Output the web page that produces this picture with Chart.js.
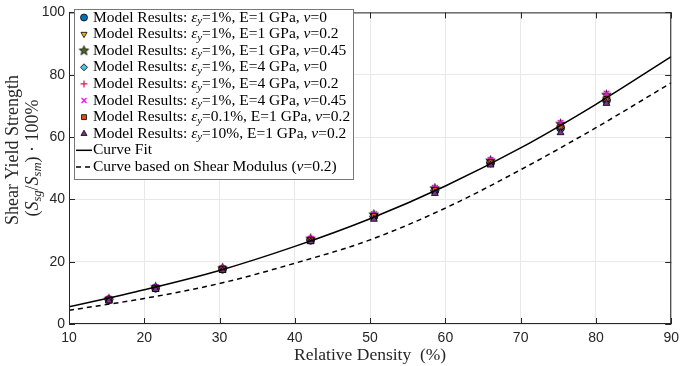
<!DOCTYPE html>
<html>
<head>
<meta charset="utf-8">
<script src="https://cdn.jsdelivr.net/npm/chart.js@4.4.1/dist/chart.umd.min.js"></script>
<style>
  html, body { margin: 0; padding: 0; background: #fff; }
</style>
</head>
<body>
<canvas id="chart" width="685" height="366"></canvas>
<script>
// relative density (%) of the simulated samples
const relDensity = [15.3, 21.5, 30.4, 42.1, 50.5, 58.6, 66.0, 75.3, 81.4];

// shear yield strength (% of solid) per model run
const e1Nu0   = [7.8, 11.5, 17.6, 26.9, 34.5, 42.8, 51.7, 62.9, 71.8];
const e1Nu02  = [7.9, 11.6, 17.7, 27.0, 34.6, 43.0, 51.9, 63.2, 72.2];
const e1Nu045 = [8.0, 11.8, 17.9, 27.3, 35.1, 43.5, 52.4, 64.2, 73.5];
const e4Nu0   = [7.8, 11.6, 17.7, 27.0, 34.6, 42.9, 51.8, 63.1, 72.0];
const e4Nu02  = [7.9, 11.7, 17.8, 27.1, 34.8, 43.2, 52.1, 63.6, 72.8];
const e4Nu045 = [8.1, 11.9, 18.0, 27.4, 35.3, 43.7, 52.7, 64.6, 74.0];
const eps01   = [7.9, 11.6, 17.7, 27.0, 34.7, 43.0, 51.9, 63.3, 72.2];
const eps10   = [7.4, 11.1, 17.2, 26.4, 33.6, 41.9, 51.0, 61.4, 70.8];

// curves
const curveX = [10, 20, 30, 40, 50, 60, 70, 80, 90];
const curveFit = [5.5, 11.0, 17.2, 24.9, 33.8, 44.3, 56.5, 70.5, 85.8];
const shearModCurve = [4.4, 8.2, 13.0, 19.5, 27.0, 37.2, 49.5, 63.0, 77.4];

const xTicks = [10, 20, 30, 40, 50, 60, 70, 80, 90];
const yTicks = [0, 20, 40, 60, 80, 100];

const SERIF = '"Liberation Serif", "DejaVu Serif", serif';
const SANS = '"Liberation Sans", Arial, sans-serif';

function makeStar(fill, r) {
    const c = document.createElement('canvas');
    const s = Math.ceil(r * 2 + 3);
    c.width = s; c.height = s;
    const g = c.getContext('2d');
    g.beginPath();
    for (let i = 0; i < 10; i++) {
        const rad = i % 2 === 0 ? r : r * 0.42;
        const ang = -Math.PI / 2 + i * Math.PI / 5;
        g.lineTo(s / 2 + rad * Math.cos(ang), s / 2 + rad * Math.sin(ang));
    }
    g.closePath();
    g.fillStyle = fill;
    g.fill();
    g.strokeStyle = '#000';
    g.lineWidth = 0.8;
    g.stroke();
    return c;
}

function toPoints(xs, ys) {
    return xs.map((x, i) => ({ x: x, y: ys[i] }));
}

function modelLabel(eps, E, nu) {
    return [
        { t: 'Model Results: ' },
        { t: 'ε', it: true },
        { t: 'y', it: true, sub: true },
        { t: '=' + eps + ', E=' + E + ' GPa, ' },
        { t: 'ν', it: true },
        { t: '=' + nu }
    ];
}

function markerSet(data, label, style, fill, order, extra) {
    return Object.assign({
        label: label,
        data: toPoints(relDensity, data),
        pointStyle: style,
        backgroundColor: fill,
        borderColor: '#000',
        borderWidth: 0.8,
        pointRadius: 4,
        showLine: false,
        order: order
    }, extra || {});
}

const starImg = makeStar('#4a6b1f', 5);

const datasets = [
    markerSet(e1Nu0, modelLabel('1%', 1, 0), 'circle', '#0072BD', 9),
    markerSet(e1Nu02, modelLabel('1%', 1, 0.2), 'triangle', '#EDB120', 8, { rotation: 180 }),
    markerSet(e1Nu045, modelLabel('1%', 1, 0.45), starImg, '#4a6b1f', 7),
    markerSet(e4Nu0, modelLabel('1%', 4, 0), 'rectRot', '#4DBEEE', 6),
    markerSet(e4Nu02, modelLabel('1%', 4, 0.2), 'cross', '#D0204F', 5, { borderColor: '#D0204F', borderWidth: 1.2 }),
    markerSet(e4Nu045, modelLabel('1%', 4, 0.45), 'crossRot', '#FF00FF', 4, { borderColor: '#FF00FF', borderWidth: 1.2 }),
    markerSet(eps01, modelLabel('0.1%', 1, 0.2), 'rect', '#D95319', 3, { pointRadius: 3.5 }),
    markerSet(eps10, modelLabel('10%', 1, 0.2), 'triangle', '#7E2F8E', 2),
    {
        label: [{ t: 'Curve Fit' }],
        data: toPoints(curveX, curveFit),
        showLine: true,
        borderColor: '#000',
        borderWidth: 1.5,
        pointRadius: 0,
        cubicInterpolationMode: 'monotone',
        order: 1
    },
    {
        label: [{ t: 'Curve based on Shear Modulus (' }, { t: 'ν', it: true }, { t: '=0.2)' }],
        data: toPoints(curveX, shearModCurve),
        showLine: true,
        borderColor: '#000',
        borderWidth: 1.5,
        borderDash: [5, 4],
        pointRadius: 0,
        cubicInterpolationMode: 'monotone',
        order: 0
    }
];

function drawRich(ctx, x, y, parts, size) {
    parts.forEach(p => {
        const s = p.sub ? size * 0.7 : size;
        ctx.font = (p.it ? 'italic ' : '') + s + 'px ' + SERIF;
        ctx.fillText(p.t, x, y + (p.sub ? size * 0.25 : 0));
        x += ctx.measureText(p.t).width;
    });
    return x;
}

function richWidth(ctx, parts, size) {
    let w = 0;
    parts.forEach(p => {
        const s = p.sub ? size * 0.7 : size;
        ctx.font = (p.it ? 'italic ' : '') + s + 'px ' + SERIF;
        w += ctx.measureText(p.t).width;
    });
    return w;
}

const overlay = {
    id: 'overlay',
    afterDraw(chart) {
        const ctx = chart.ctx;
        const a = chart.chartArea;
        const xs = chart.scales.x, ys = chart.scales.y;
        ctx.save();

        // axes box with inward ticks
        ctx.strokeStyle = '#262626';
        ctx.lineWidth = 1;
        ctx.strokeRect(a.left + 0.5, a.top + 0.5, a.right - a.left - 1, a.bottom - a.top - 1);
        ctx.beginPath();
        xTicks.forEach(v => {
            const px = Math.round(xs.getPixelForValue(v)) + 0.5;
            ctx.moveTo(px, a.bottom); ctx.lineTo(px, a.bottom - 6);
            ctx.moveTo(px, a.top); ctx.lineTo(px, a.top + 6);
        });
        yTicks.forEach(v => {
            const py = Math.round(ys.getPixelForValue(v)) + 0.5;
            ctx.moveTo(a.left, py); ctx.lineTo(a.left + 6, py);
            ctx.moveTo(a.right, py); ctx.lineTo(a.right - 6, py);
        });
        ctx.stroke();

        // legend
        const lx = 74, ly = 9, lw = 279, rowH = 16.6, fs = 15.5;
        const lh = rowH * datasets.length + 4;
        ctx.fillStyle = '#fff';
        ctx.fillRect(lx, ly, lw, lh);
        ctx.strokeStyle = '#777';
        ctx.strokeRect(lx + 0.5, ly + 0.5, lw, lh);
        ctx.textBaseline = 'middle';
        datasets.forEach((ds, i) => {
            const cy = ly + 8.5 + rowH * i;
            if (ds.showLine) {
                ctx.strokeStyle = '#000';
                ctx.lineWidth = 1.5;
                ctx.setLineDash(ds.borderDash || []);
                ctx.beginPath();
                ctx.moveTo(lx + 2, cy); ctx.lineTo(lx + 18, cy);
                ctx.stroke();
                ctx.setLineDash([]);
                ctx.fillStyle = '#000';
                drawRich(ctx, lx + 19, cy, ds.label, fs);
            } else {
                ctx.fillStyle = ds.backgroundColor;
                ctx.strokeStyle = ds.borderColor;
                ctx.lineWidth = ds.borderWidth;
                Chart.helpers.drawPoint(ctx, {
                    pointStyle: ds.pointStyle,
                    radius: 3.5,
                    rotation: ds.rotation || 0,
                    borderWidth: ds.borderWidth
                }, lx + 10, cy);
                ctx.fillStyle = '#000';
                drawRich(ctx, lx + 19, cy, ds.label, fs);
            }
        });

        // y axis title (two lines, rotated)
        const title1 = [{ t: 'Shear Yield Strength' }];
        const title2 = [
            { t: '(' }, { t: 'S', it: true }, { t: 'sg', it: true, sub: true },
            { t: '/' }, { t: 'S', it: true }, { t: 'sm', it: true, sub: true },
            { t: ')' }, { t: ' · 100%' }
        ];
        const tfs = 18;
        ctx.fillStyle = '#262626';
        ctx.rotate(-Math.PI / 2);
        drawRich(ctx, -150 - richWidth(ctx, title1, tfs) / 2, 13, title1, tfs);
        drawRich(ctx, -158 - richWidth(ctx, title2, tfs) / 2, 33, title2, tfs);
        ctx.restore();
    }
};

new Chart(document.getElementById('chart'), {
    type: 'scatter',
    data: { datasets: datasets },
    options: {
        responsive: false,
        animation: false,
        devicePixelRatio: 1,
        layout: { padding: { top: 5, right: 8, left: 0, bottom: 0 } },
        plugins: {
            legend: { display: false },
            tooltip: { enabled: false }
        },
        scales: {
            x: {
                type: 'linear',
                min: 10,
                max: 90,
                afterFit: function(scale) { scale.height = 42; },
                afterBuildTicks: function(scale) { scale.ticks = xTicks.map(v => ({ value: v })); },
                grid: { color: '#e8e8e8', drawTicks: false },
                border: { display: false },
                ticks: { color: '#262626', font: { family: SANS, size: 14 }, padding: 6 },
                title: {
                    display: true,
                    text: 'Relative Density  (%)',
                    color: '#262626',
                    font: { family: SERIF, size: 17.5 },
                    padding: { top: 0, bottom: 0 }
                }
            },
            y: {
                min: 0,
                max: 100,
                afterFit: function(scale) { scale.width = 69; },
                afterBuildTicks: function(scale) { scale.ticks = yTicks.map(v => ({ value: v })); },
                grid: { color: '#e8e8e8', drawTicks: false },
                border: { display: false },
                ticks: { color: '#262626', font: { family: SANS, size: 14 }, padding: 4 }
            }
        }
    },
    plugins: [overlay]
});
</script>
</body>
</html>
